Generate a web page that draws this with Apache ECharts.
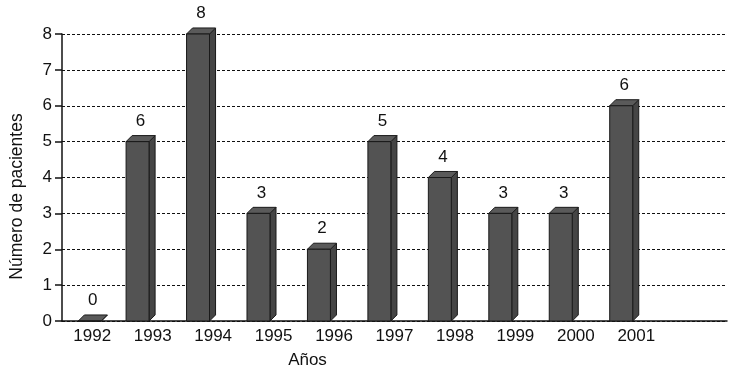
<!DOCTYPE html>
<html>
<head>
<meta charset="utf-8">
<script src="https://cdn.jsdelivr.net/npm/echarts@6/dist/echarts.min.js"></script>
<style>
  html, body { margin: 0; padding: 0; background: #fff; }
  #chart { width: 730px; height: 374px; }
</style>
</head>
<body>
<div id="chart"></div>
<script>
  // categorias del eje x (la ultima queda vacia, como en el original)
  var years = ['1992', '1993', '1994', '1995', '1996', '1997', '1998', '1999', '2000', '2001', '']
  // altura de las barras
  var patients = [0, 5, 8, 3, 2, 5, 4, 3, 3, 6]
  // etiquetas impresas encima de cada barra
  var barLabels = ['0', '6', '8', '3', '2', '5', '4', '3', '3', '6']
  var yTicks = [0, 8, 1] // min, max, intervalo

  var myChart = echarts.init(document.getElementById('chart'))

  // barra con efecto 3D: cara frontal, lateral y superior
  function renderBar(params, api) {
    var idx = api.value(0)
    var val = api.value(1)
    var base = api.coord([idx, 0])
    var top = api.coord([idx, val])
    var bw = api.size([1, 0])[0]
    var w = bw * 0.38
    var d = bw * 0.1
    var x0 = base[0] - bw * 0.44
    if (val === 0) {
      x0 = base[0] - bw * 0.23 // la barra vacia esta algo desplazada en el original
    }
    var x1 = x0 + w
    var yb = base[1]
    var yt = top[1]
    var edge = {stroke: '#1a1a1a', lineWidth: 1}
    return {
      type: 'group',
      children: [
        {
          type: 'polygon',
          shape: {points: [[x1, yb], [x1 + d, yb - d], [x1 + d, yt - d], [x1, yt]]},
          style: Object.assign({fill: '#454545'}, edge)
        },
        {
          type: 'polygon',
          shape: {points: [[x0, yt], [x0 + d, yt - d], [x1 + d, yt - d], [x1, yt]]},
          style: Object.assign({fill: '#5a5a5a'}, edge)
        },
        {
          type: 'rect',
          shape: {x: x0, y: yt, width: w, height: yb - yt},
          style: Object.assign({fill: '#535353'}, edge)
        },
        {
          type: 'text',
          x: x0 + (w + d) / 2,
          y: yt - d - 6,
          style: {
            text: barLabels[params.dataIndex],
            fill: '#111',
            font: '17px "Liberation Sans", Arial, sans-serif',
            align: 'center',
            verticalAlign: 'bottom'
          }
        }
      ]
    }
  }

  var option = {
    animation: false,
    grid: {
      left: 56,
      right: 3,
      top: 34,
      bottom: 52
    },
    xAxis: {
      type: 'category',
      data: years,
      boundaryGap: true,
      name: 'Años',
      nameLocation: 'middle',
      nameGap: 31,
      nameTextStyle: {
        color: '#111',
        fontSize: 17,
        fontFamily: 'Liberation Sans',
        padding: [0, 174, 0, 0]
      },
      axisLine: {
        lineStyle: {color: '#111', width: 1.5}
      },
      axisTick: {
        interval: 0,
        length: 6,
        lineStyle: {color: '#111', width: 1.5}
      },
      axisLabel: {
        interval: 0,
        color: '#111',
        fontSize: 17,
        fontFamily: 'Liberation Sans',
        margin: 7
      },
      splitLine: {show: false}
    },
    yAxis: {
      type: 'value',
      min: yTicks[0],
      max: yTicks[1],
      interval: yTicks[2],
      name: 'Número de pacientes',
      nameLocation: 'middle',
      nameGap: 36,
      nameTextStyle: {
        color: '#111',
        fontSize: 17.5,
        fontFamily: 'Liberation Sans',
        padding: [0, 38, 0, 0]
      },
      axisLine: {
        show: true,
        lineStyle: {color: '#111', width: 1.5}
      },
      axisTick: {
        show: true,
        length: 7,
        lineStyle: {color: '#111', width: 1.5}
      },
      axisLabel: {
        color: '#111',
        fontSize: 17,
        fontFamily: 'Liberation Sans',
        margin: 10
      },
      splitLine: {
        show: true,
        lineStyle: {
          color: '#111',
          width: 1,
          type: [3, 2]
        }
      }
    },
    series: [{
      type: 'custom',
      renderItem: renderBar,
      encode: {x: 0, y: 1},
      data: patients.map(function (v, i) {
        return [i, v]
      }),
      clip: false
    }]
  }

  myChart.setOption(option)
</script>
</body>
</html>
